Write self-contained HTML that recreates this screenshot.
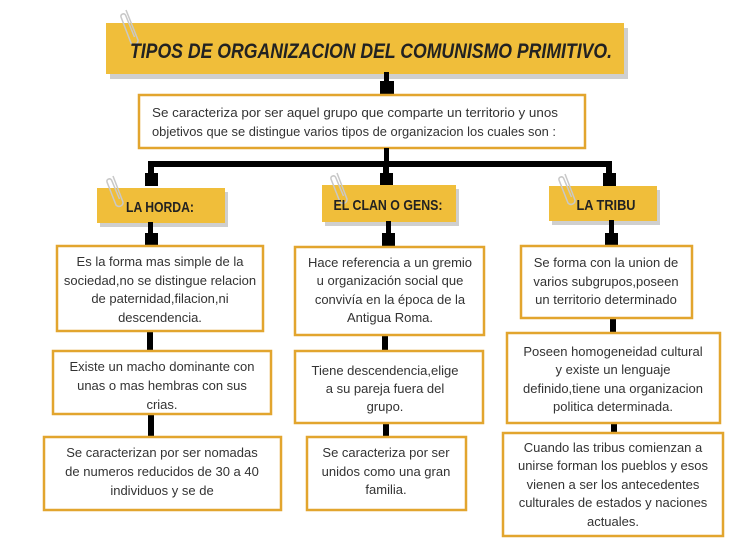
<!DOCTYPE html>
<html><head><meta charset="utf-8"><style>
html,body{margin:0;padding:0;background:#fff;}
svg{display:block;}
.t{font-family:"Liberation Sans",sans-serif;font-size:13px;fill:#333;text-anchor:middle;}
.h{font-family:"Liberation Sans",sans-serif;font-weight:bold;fill:#222;text-anchor:middle;}
.b{fill:#fff;stroke:#E2A52E;stroke-width:2.5;}
.y{fill:#F0BE3A;}
.s{fill:#cfcfcf;}
.clip{fill:none;stroke:#c8c8c8;stroke-width:1.5;}
</style></head><body>
<svg width="750" height="550" viewBox="0 0 750 550" xmlns="http://www.w3.org/2000/svg">
<!-- title -->
<rect class="s" x="110" y="28" width="518" height="51"/>
<rect class="y" x="106" y="23" width="518" height="51"/>
<path class="clip" d="M126 10 l12 30 a4 4 0 0 1 -7 3 l-10 -26 a2.5 2.5 0 0 1 4.5 -2 l9 22"/>
<text class="h" x="371" y="58" font-size="21" font-style="italic" textLength="482" lengthAdjust="spacingAndGlyphs">TIPOS DE ORGANIZACION DEL COMUNISMO PRIMITIVO.</text>
<!-- connector title->desc -->
<rect x="384" y="72" width="5" height="12" fill="#000"/>
<rect x="380" y="81" width="14" height="15" fill="#000"/>
<!-- desc -->
<rect class="b" x="139" y="95" width="446" height="53" stroke-width="2"/>
<text class="t" x="152" y="117" style="text-anchor:start" font-size="13.5" textLength="406" lengthAdjust="spacingAndGlyphs">Se caracteriza por ser aquel grupo que comparte un territorio y unos</text>
<text class="t" x="152" y="136" style="text-anchor:start" font-size="13.5" textLength="404" lengthAdjust="spacingAndGlyphs">objetivos que se distingue varios tipos de organizacion los cuales son :</text>
<!-- bar -->
<rect x="384" y="148" width="5" height="16" fill="#000"/>
<rect x="148" y="161" width="464" height="6" fill="#000"/>
<rect x="148" y="161" width="6" height="14" fill="#000"/>
<rect x="145" y="173" width="13" height="13" fill="#000"/>
<rect x="383" y="161" width="6" height="14" fill="#000"/>
<rect x="380" y="173" width="13" height="13" fill="#000"/>
<rect x="606" y="161" width="6" height="14" fill="#000"/>
<rect x="603" y="173" width="13" height="13" fill="#000"/>
<!-- headers -->
<rect class="s" x="100" y="192" width="128" height="35"/>
<rect class="y" x="97" y="188" width="128" height="35"/>
<path class="clip" d="M113 176 l10 26 a4 4 0 0 1 -7 3 l-9 -23 a2.5 2.5 0 0 1 4.5 -2 l8 19"/>
<text class="h" x="160" y="212" font-size="15" textLength="68" lengthAdjust="spacingAndGlyphs">LA HORDA:</text>
<rect class="s" x="325" y="189" width="134" height="37"/>
<rect class="y" x="322" y="185" width="134" height="37"/>
<path class="clip" d="M337 173 l10 26 a4 4 0 0 1 -7 3 l-9 -23 a2.5 2.5 0 0 1 4.5 -2 l8 19"/>
<text class="h" x="388" y="210" font-size="15" textLength="109" lengthAdjust="spacingAndGlyphs">EL CLAN O GENS:</text>
<rect class="s" x="552" y="190" width="108" height="35"/>
<rect class="y" x="549" y="186" width="108" height="35"/>
<path class="clip" d="M565 174 l10 26 a4 4 0 0 1 -7 3 l-9 -23 a2.5 2.5 0 0 1 4.5 -2 l8 19"/>
<text class="h" x="606" y="210" font-size="15" textLength="59" lengthAdjust="spacingAndGlyphs">LA TRIBU</text>
<!-- header to boxes -->
<rect x="148" y="222" width="5" height="14" fill="#000"/>
<rect x="145" y="233" width="13" height="14" fill="#000"/>
<rect x="386" y="221" width="5" height="14" fill="#000"/>
<rect x="382" y="233" width="13" height="14" fill="#000"/>
<rect x="609" y="220" width="5" height="14" fill="#000"/>
<rect x="605" y="233" width="13" height="14" fill="#000"/>
<!-- horda column -->
<rect x="147" y="330" width="6" height="22" fill="#000"/>
<rect x="148" y="413" width="6" height="25" fill="#000"/>
<rect class="b" x="57" y="246" width="206" height="85"/>
<text class="t" x="160" y="266">Es la forma mas simple de la</text>
<text class="t" x="160" y="285">sociedad,no se distingue relacion</text>
<text class="t" x="160" y="303">de paternidad,filacion,ni</text>
<text class="t" x="160" y="322">descendencia.</text>
<rect class="b" x="53" y="351" width="218" height="63"/>
<text class="t" x="162" y="371">Existe un macho dominante con</text>
<text class="t" x="162" y="390">unas o mas  hembras con sus</text>
<text class="t" x="162" y="409">crias.</text>
<rect class="b" x="44" y="437" width="237" height="73"/>
<text class="t" x="162" y="457">Se caracterizan por ser nomadas</text>
<text class="t" x="162" y="476">de numeros reducidos de 30 a 40</text>
<text class="t" x="162" y="495">individuos y se de</text>
<!-- clan column -->
<rect x="382" y="334" width="6" height="18" fill="#000"/>
<rect x="383" y="422" width="6" height="16" fill="#000"/>
<rect class="b" x="295" y="247" width="189" height="88"/>
<text class="t" x="390" y="267">Hace referencia a un gremio</text>
<text class="t" x="390" y="285">u organización social que</text>
<text class="t" x="390" y="304">convivía en la época de la</text>
<text class="t" x="390" y="322">Antigua Roma.</text>
<rect class="b" x="295" y="351" width="188" height="72"/>
<text class="t" x="385" y="375">Tiene descendencia,elige</text>
<text class="t" x="385" y="393">a su pareja fuera del</text>
<text class="t" x="385" y="411">grupo.</text>
<rect class="b" x="307" y="437" width="159" height="73"/>
<text class="t" x="386" y="457">Se caracteriza por ser</text>
<text class="t" x="386" y="476">unidos como una gran</text>
<text class="t" x="386" y="494">familia.</text>
<!-- tribu column -->
<rect x="610" y="317" width="6" height="17" fill="#000"/>
<rect x="611" y="422" width="6" height="12" fill="#000"/>
<rect class="b" x="521" y="246" width="171" height="72"/>
<text class="t" x="606" y="267">Se forma con la union de</text>
<text class="t" x="606" y="286">varios subgrupos,poseen</text>
<text class="t" x="606" y="304">un territorio determinado</text>
<rect class="b" x="507" y="333" width="213" height="90"/>
<text class="t" x="613" y="356">Poseen homogeneidad cultural</text>
<text class="t" x="613" y="374">y existe un lenguaje</text>
<text class="t" x="613" y="393">definido,tiene una organizacion</text>
<text class="t" x="613" y="411">politica determinada.</text>
<rect class="b" x="503" y="433" width="220" height="103"/>
<text class="t" x="613" y="452">Cuando las tribus comienzan a</text>
<text class="t" x="613" y="470">unirse forman los pueblos y esos</text>
<text class="t" x="613" y="489">vienen a ser los antecedentes</text>
<text class="t" x="613" y="507">culturales de estados y naciones</text>
<text class="t" x="613" y="526">actuales.</text>
</svg>
</body></html>
